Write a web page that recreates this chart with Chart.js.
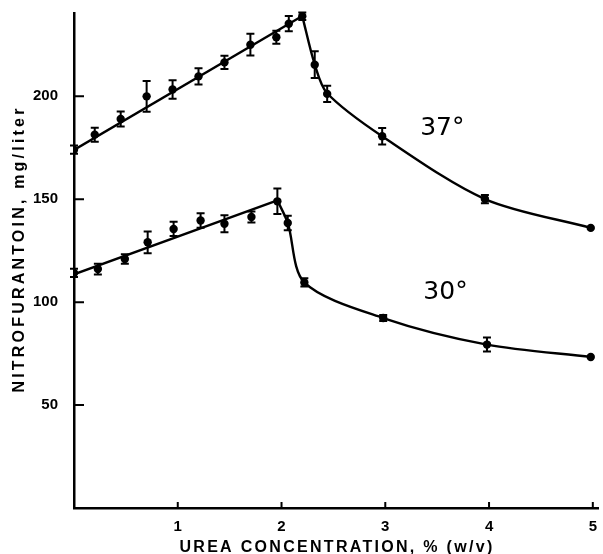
<!DOCTYPE html>
<html><head><meta charset="utf-8">
<script src="https://cdn.jsdelivr.net/npm/chart.js@4"></script>
<style>html,body{margin:0;padding:0;background:#fff}</style>
</head><body>
<canvas id="c" width="603" height="554"></canvas>
<script>
// ---- data ----
const xTicks = [1, 2, 3, 4, 5];
const yTicks = [50, 100, 150, 200];

const x37 = [0, 0.2, 0.45, 0.7, 0.95, 1.2, 1.45, 1.7, 1.95, 2.07, 2.2, 2.32, 2.44, 2.97, 3.96, 4.98];
const y37 = [174.1, 181.4, 189.0, 200.0, 203.3, 209.7, 216.5, 225.1, 228.7, 235.3, 238.9, 215.4, 201.2, 180.6, 150.1, 136.1];
const e37 = [2, 3.4, 3.6, 7.5, 4.5, 3.9, 3.2, 5.3, 3.2, 3.7, 1.8, 6.5, 3.9, 4, 2, 0];

const x30 = [0, 0.23, 0.49, 0.71, 0.96, 1.22, 1.45, 1.71, 1.96, 2.06, 2.22, 2.98, 3.98, 4.98];
const y30 = [114.2, 116.1, 121.0, 129.1, 135.6, 139.7, 138.1, 141.4, 149.0, 138.5, 109.6, 92.3, 79.4, 73.4];
const e30 = [2, 2.6, 2.3, 5.3, 3.5, 3.5, 4.1, 2.7, 6.2, 3.5, 2, 1.5, 3.4, 0];

// fitted curves
const fit37LineX = [0, 2.2];
const fit37LineY = [174, 239];
const fit37CurveX = [2.2, 2.32, 2.44, 2.97, 3.96, 4.98];
const fit37CurveY = [239, 215.5, 201.5, 180.6, 150.1, 136.1];
const fit30LineX = [0, 1.96];
const fit30LineY = [113.5, 149.5];
const fit30CurveX = [1.96, 2.06, 2.22, 2.98, 3.98, 4.98];
const fit30CurveY = [149.5, 138.5, 109.6, 92.3, 79.4, 73.4];

const curveLabels = ['37°', '30°'];
const labelX = [3.55, 3.58];
const labelY = [184.6, 104.9];

const xTitle = 'UREA CONCENTRATION, % (w/v)';
const yTitle = 'NITROFURANTOIN, mg/liter';

// ---- helpers ----
const pts = (xs, ys) => xs.map((x, i) => ({x: x, y: ys[i]}));
const lineDs = (xs, ys, tension) => ({
  type: 'line', data: pts(xs, ys), showLine: true, pointRadius: 0,
  borderColor: '#000', borderWidth: 2.4, fill: false, tension: tension
});
const pointDs = (xs, ys, errs) => ({
  type: 'scatter', data: pts(xs, ys), errs: errs, showLine: false,
  pointRadius: 4.2, pointBackgroundColor: '#000', pointBorderColor: '#000', pointBorderWidth: 0
});

const extras = {
  id: 'extras',
  afterDatasetsDraw(chart) {
    const ctx = chart.ctx, xs = chart.scales.x, ys = chart.scales.y;
    ctx.save();
    ctx.strokeStyle = '#000'; ctx.lineWidth = 2;
    chart.data.datasets.forEach(ds => {
      if (!ds.errs) return;
      ds.data.forEach((p, i) => {
        const e = ds.errs[i]; if (!e) return;
        const px = xs.getPixelForValue(p.x);
        const t = ys.getPixelForValue(p.y + e), b = ys.getPixelForValue(p.y - e);
        ctx.beginPath();
        ctx.moveTo(px, t); ctx.lineTo(px, b);
        ctx.moveTo(px - 4, t); ctx.lineTo(px + 4, t);
        ctx.moveTo(px - 4, b); ctx.lineTo(px + 4, b);
        ctx.stroke();
      });
    });
    // tick marks pointing inward
    const ca = chart.chartArea;
    ctx.lineWidth = 2;
    ctx.beginPath();
    yTicks.forEach(v => { const py = ys.getPixelForValue(v); ctx.moveTo(ca.left, py); ctx.lineTo(ca.left + 10, py); });
    xTicks.forEach(v => { const px = xs.getPixelForValue(v); ctx.moveTo(px, ca.bottom); ctx.lineTo(px, ca.bottom - 6); });
    ctx.stroke();
    // curve labels
    ctx.fillStyle = '#000';
    ctx.font = '25px "DejaVu Sans"';
    ctx.textAlign = 'center'; ctx.textBaseline = 'middle';
    curveLabels.forEach((t, i) => ctx.fillText(t, xs.getPixelForValue(labelX[i]), ys.getPixelForValue(labelY[i])));
    // axis titles
    ctx.font = 'bold 16px "Liberation Sans"';
    ctx.textBaseline = 'alphabetic';
    ctx.letterSpacing = '2.3px';
    ctx.fillText(xTitle, (ca.left + ca.right) / 2 + 1, 552);
    ctx.letterSpacing = '3.2px';
    ctx.translate(24, 249);
    ctx.rotate(-Math.PI / 2);
    ctx.fillText(yTitle, 0, 0);
    ctx.restore();
  }
};

new Chart(document.getElementById('c'), {
  data: {
    datasets: [
      lineDs(fit37LineX, fit37LineY, 0),
      lineDs(fit37CurveX, fit37CurveY, 0.3),
      lineDs(fit30LineX, fit30LineY, 0),
      lineDs(fit30CurveX, fit30CurveY, 0.3),
      pointDs(x37, y37, e37),
      pointDs(x30, y30, e30)
    ]
  },
  options: {
    responsive: false, animation: false, devicePixelRatio: 1,
    layout: {padding: {left: 0, right: 5, top: 13, bottom: 0}},
    plugins: {legend: {display: false}, tooltip: {enabled: false}},
    scales: {
      x: {
        type: 'linear', min: 0, max: 5.05,
        afterBuildTicks: s => { s.ticks = xTicks.map(v => ({value: v})); },
        afterFit: s => { s.height = 46; s.paddingLeft = 0; s.paddingRight = 0; },
        grid: {display: true, drawOnChartArea: false, drawTicks: false},
        border: {display: true, color: '#000', width: 2.5},
        ticks: {color: '#000', padding: 10, font: {family: 'Liberation Sans', size: 15, weight: 'bold'}}
      },
      y: {
        type: 'linear', min: 0, max: 240.5,
        afterBuildTicks: s => { s.ticks = yTicks.map(v => ({value: v})); },
        afterFit: s => { s.width = 74; s.paddingTop = 0; s.paddingBottom = 0; },
        grid: {display: true, drawOnChartArea: false, drawTicks: false},
        border: {display: true, color: '#000', width: 2.5},
        ticks: {color: '#000', padding: 16, font: {family: 'Liberation Sans', size: 15, weight: 'bold'}}
      }
    }
  },
  plugins: [extras]
});
</script>
</body></html>
